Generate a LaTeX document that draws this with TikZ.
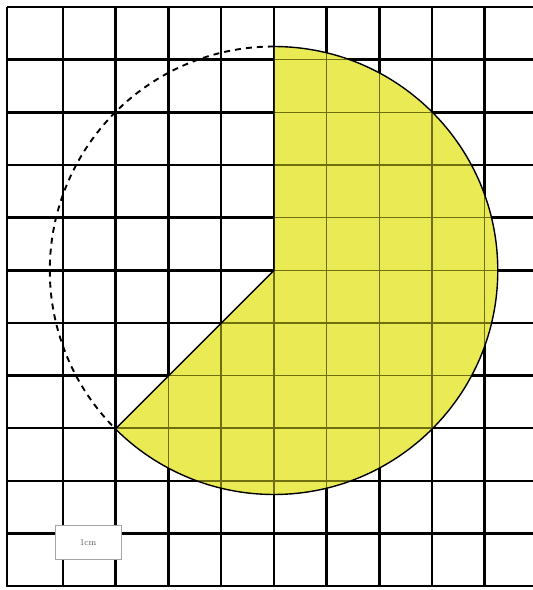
\documentclass[tikz,border=0pt]{standalone}
\definecolor{sectorfill}{RGB}{234,234,84}
\definecolor{innergrid}{RGB}{110,110,15}
\tikzset{
  gridline/.style={black,line width=2.6pt},
  innerline/.style={innergrid,line width=1.4pt},
  rim/.style={black,line width=1.4pt},
  dashrim/.style={black,line width=1.9pt,dash pattern=on 6pt off 5pt},
  scalebox/.style={draw=gray!70,line width=1pt,fill=white,minimum width=66pt,minimum height=34pt,inner sep=0pt,font=\fontsize{9}{10}\selectfont,text=gray!70!black}
}
\begin{document}
\begin{tikzpicture}[x=1pt,y=1pt]
\useasboundingbox (0,0) rectangle (533,590);
\fill[white] (0,0) rectangle (533,590);
% grid
\foreach \x in {7,63,115.7,168.4,221.1,273.8,326.5,379.2,431.9,484.6}
  \draw[gridline] (\x,3) -- (\x,583);
\foreach \k in {0,...,11}
  \draw[gridline] (7,583-52.65*\k) -- (533,583-52.65*\k);
% sector
\coordinate (C) at (273.8,319.5);
\fill[sectorfill] (C) -- ++(90:224) arc[start angle=90,end angle=-135,radius=224] -- cycle;
\begin{scope}
  \clip (C) -- ++(90:224) arc[start angle=90,end angle=-135,radius=224] -- cycle;
  \foreach \x in {63,115.7,168.4,221.1,273.8,326.5,379.2,431.9,484.6}
    \draw[innerline] (\x,3) -- (\x,583);
  \foreach \k in {0,...,11}
    \draw[innerline] (7,583-52.65*\k) -- (533,583-52.65*\k);
\end{scope}
\draw[rim] (C) -- ++(90:224) arc[start angle=90,end angle=-135,radius=224] -- cycle;
\draw[dashrim] (C) ++(90:224) arc[start angle=90,end angle=225,radius=224];
% scale label
\node[scalebox] (scale) at (88,47.5) {1cm};
\end{tikzpicture}
\end{document}
